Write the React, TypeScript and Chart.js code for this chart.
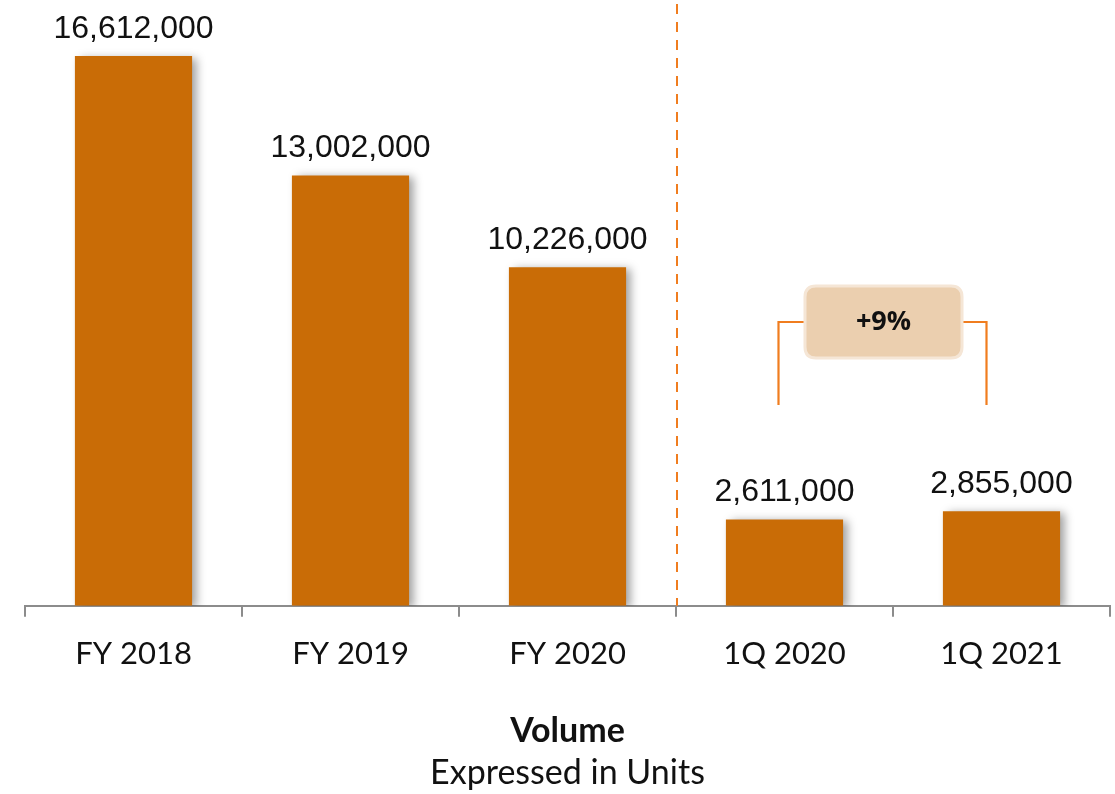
import React, { useEffect, useRef } from "react";
import { Chart, registerables } from "chart.js";

Chart.register(...registerables);

const categories = ["FY 2018", "FY 2019", "FY 2020", "1Q 2020", "1Q 2021"];
const volumes = [16612000, 13002000, 10226000, 2611000, 2855000];
const valueLabels = ["16,612,000", "13,002,000", "10,226,000", "2,611,000", "2,855,000"];
const growthLabel = "+9%";
const titleText = "Volume";
const subtitleText = "Expressed in Units";

const BAR_COLOR = "#C96C06";
const ACCENT = "#F07D1F";

const effectsPlugin = {
  id: "effects",
  beforeDatasetsDraw(chart: any) {
    const ctx = chart.ctx;
    ctx.save();
    ctx.shadowColor = "rgba(0,0,0,0.38)";
    ctx.shadowBlur = 9;
    ctx.shadowOffsetX = 5;
    ctx.shadowOffsetY = 2;
  },
  afterDatasetsDraw(chart: any) {
    const ctx = chart.ctx;
    ctx.restore();
    const meta = chart.getDatasetMeta(0);
    const xs = chart.scales.x;
    const ys = chart.scales.y;
    // value labels
    ctx.save();
    ctx.fillStyle = "#111";
    ctx.font = "32px 'Liberation Sans', Arial, sans-serif";
    ctx.textAlign = "center";
    ctx.textBaseline = "alphabetic";
    meta.data.forEach((bar: any, i: number) => {
      ctx.fillText(valueLabels[i], bar.x, bar.y - 18);
    });
    ctx.restore();

    // dashed separator between FY and quarterly
    const sepX = (xs.getPixelForValue(2) + xs.getPixelForValue(3)) / 2 + 1;
    ctx.save();
    ctx.strokeStyle = ACCENT;
    ctx.lineWidth = 2;
    ctx.setLineDash([10, 8]);
    ctx.beginPath();
    ctx.moveTo(sepX, 4);
    ctx.lineTo(sepX, ys.bottom);
    ctx.stroke();
    ctx.restore();

    // bracket
    const lx = xs.getPixelForValue(3) - 6;
    const rx = xs.getPixelForValue(4) - 15;
    const topY = 322;
    const botY = 405;
    const boxL = 805;
    const boxR = 962;
    const boxT = 286;
    const boxB = 358;
    ctx.save();
    ctx.strokeStyle = ACCENT;
    ctx.lineWidth = 2.2;
    ctx.beginPath();
    ctx.moveTo(lx, botY);
    ctx.lineTo(lx, topY);
    ctx.lineTo(boxL, topY);
    ctx.moveTo(boxR, topY);
    ctx.lineTo(rx, topY);
    ctx.lineTo(rx, botY);
    ctx.stroke();
    // box
    const r = 11;
    ctx.beginPath();
    ctx.moveTo(boxL + r, boxT);
    ctx.lineTo(boxR - r, boxT);
    ctx.quadraticCurveTo(boxR, boxT, boxR, boxT + r);
    ctx.lineTo(boxR, boxB - r);
    ctx.quadraticCurveTo(boxR, boxB, boxR - r, boxB);
    ctx.lineTo(boxL + r, boxB);
    ctx.quadraticCurveTo(boxL, boxB, boxL, boxB - r);
    ctx.lineTo(boxL, boxT + r);
    ctx.quadraticCurveTo(boxL, boxT, boxL + r, boxT);
    ctx.closePath();
    ctx.fillStyle = "#EBCFAF";
    ctx.fill();
    ctx.strokeStyle = "#F5E6D6";
    ctx.lineWidth = 3;
    ctx.stroke();
    ctx.fillStyle = "#111";
    ctx.font = "bold 27px 'Open Sans', sans-serif";
    ctx.textAlign = "center";
    ctx.textBaseline = "middle";
    ctx.fillText(growthLabel, (boxL + boxR) / 2, (boxT + boxB) / 2);
    ctx.restore();

    // bottom titles
    ctx.save();
    ctx.fillStyle = "#111";
    ctx.textAlign = "center";
    ctx.textBaseline = "alphabetic";
    const cx = (xs.left + xs.right) / 2;
    ctx.font = "bold 34px Lato, sans-serif";
    ctx.fillText(titleText, cx, 742);
    ctx.font = "34px Lato, sans-serif";
    ctx.fillText(subtitleText, cx, 784);
    ctx.restore();
  },
};

export default function App() {
  const ref = useRef<HTMLCanvasElement | null>(null);
  useEffect(() => {
    if (!ref.current) return;
    const chart = new Chart(ref.current, {
      type: "bar",
      data: {
        labels: categories,
        datasets: [
          {
            data: volumes,
            backgroundColor: BAR_COLOR,
            borderWidth: 0,
            categoryPercentage: 1,
            barPercentage: 0.54,
          },
        ],
      },
      options: {
        responsive: false,
        animation: false,
        layout: { padding: { left: 25, right: 5, top: 10, bottom: 102 } },
        plugins: { legend: { display: false }, tooltip: { enabled: false }, title: { display: false } },
        scales: {
          x: {
            grid: {
              offset: true,
              drawOnChartArea: false,
              drawTicks: true,
              tickLength: 11,
              color: "#8C8C8C",
              lineWidth: 2,
            },
            border: { display: true, color: "#8C8C8C", width: 2 },
            ticks: {
              color: "#111",
              font: { family: "Lato", size: 31 },
              padding: 19,
            },
          },
          y: {
            display: false,
            min: 0,
            max: 18000000,
          },
        },
      },
      plugins: [effectsPlugin],
    });
    return () => chart.destroy();
  }, []);
  return (
    <div style={{ position: "absolute", left: 0, top: 0, width: 1115, height: 794, background: "#fff" }}>
      <canvas ref={ref} width={1115} height={794} style={{ display: "block" }} />
    </div>
  );
}
